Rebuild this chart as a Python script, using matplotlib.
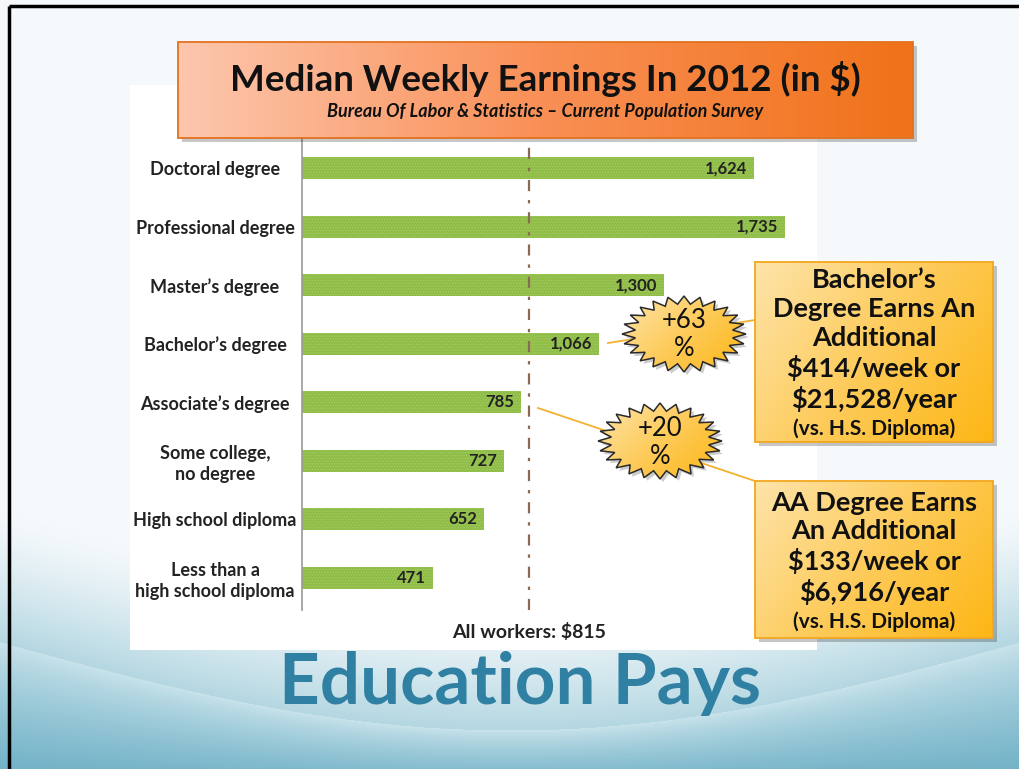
import numpy as np
import matplotlib
matplotlib.use("Agg")
import matplotlib.pyplot as plt
from matplotlib.patches import Rectangle, Polygon
from matplotlib.colors import LinearSegmentedColormap, to_rgb

# Data
categories = ["Doctoral degree", "Professional degree", "Master\u2019s degree",
              "Bachelor\u2019s degree", "Associate\u2019s degree",
              "Some college,\nno degree", "High school diploma",
              "Less than a\nhigh school diploma"]
earnings = [1624, 1735, 1300, 1066, 785, 727, 652, 471]
all_workers = 815

title = "Median Weekly Earnings In 2012 (in \\$)"
subtitle = "Bureau Of Labor & Statistics \u2013 Current Population Survey"
bach_lines = "Bachelor\u2019s\nDegree Earns An\nAdditional\n\\$414/week or\n\\$21,528/year"
aa_lines = "AA Degree Earns\nAn Additional\n\\$133/week or\n\\$6,916/year"
vs_note = "(vs. H.S. Diploma)"
bach_pct = "+63\n%"
aa_pct = "+20\n%"
footer = "Education Pays"

W, H = 1020, 769
fig = plt.figure(figsize=(W / 100, H / 100), dpi=100)

# slide background
bg = fig.add_axes([0, 0, 1, 1], zorder=0)
bg.set_axis_off()
yy, xx = np.mgrid[0:H, 0:W].astype(float)
c_top = np.array(to_rgb("#f5f9fb"))
c_above = np.array(to_rgb("#b4d7e2"))
c_below = np.array(to_rgb("#c9e3eb"))
c_bottom = np.array(to_rgb("#65abc2"))
arc = 642 + 88 * np.sin(np.pi * xx / W)
ta = np.clip((yy - (arc - 130)) / 130, 0, 1)[..., None] ** 1.3
tb = np.clip((yy - arc) / (H - arc + 25), 0, 1)[..., None] ** 0.8
upper = c_top * (1 - ta) + c_above * ta
lower = c_below * (1 - tb) + c_bottom * tb
img = np.where((yy < arc)[..., None], upper, lower)
bg.imshow(img, extent=(0, W, H, 0), aspect="auto", origin="upper", interpolation="bilinear")
bg.set_xlim(0, W)
bg.set_ylim(H, 0)
bg.add_patch(Rectangle((130, 85), 687, 565, fc="white", lw=0))

# bar chart
scale = 0.2785  # px per dollar
ax = fig.add_axes([302 / W, 1 - 610 / H, 515 / W, 473 / H], zorder=1)
ax.patch.set_alpha(0)
plt.rcParams["hatch.linewidth"] = 0.6
pos = np.arange(len(categories))
ax.barh(pos, earnings, height=0.375, color="#8fbd47", edgecolor="#a5cc64",
        linewidth=0, hatch="......")
ax.set_xlim(0, 515 / scale)
ax.set_ylim(7.55, -0.53)
ax.axvline(all_workers, color="#8a6a55", lw=1.6, ls=(0, (5, 4, 1.5, 4)))
for s in ["top", "right", "bottom"]:
    ax.spines[s].set_visible(False)
ax.spines["left"].set_color("#9a9a9a")
ax.spines["left"].set_linewidth(1.2)
ax.set_xticks([])
ax.set_yticks(pos)
ax.set_yticklabels(categories, ha="center", fontsize=13, fontweight="bold",
                   family="Lato", color="#222222", linespacing=1.25)
ax.tick_params(axis="y", length=0, pad=62.6)
for i, v in enumerate(earnings):
    ax.annotate(f"{v:,}", xy=(v, i), xytext=(-5, 0), textcoords="offset points",
                ha="right", va="center", fontsize=12, fontweight="bold",
                family="Lato", color="#222222")
ax.text(all_workers, 7.93, f"All workers: \\${all_workers}", ha="center", va="center",
        fontsize=14, fontweight="bold", family="Lato", color="#222222", clip_on=False)

# overlay with title, callouts
ov = fig.add_axes([0, 0, 1, 1], zorder=2)
ov.set_axis_off()
ov.patch.set_alpha(0)

orange = LinearSegmentedColormap.from_list("o", ["#fdc7ae", "#f98f55", "#f07219"])
gold = LinearSegmentedColormap.from_list("g", ["#fee4aa", "#fdcb5a", "#fdb614"])


def grad_box(x0, y0, x1, y1, cmap, edge, diag):
    ov.add_patch(Rectangle((x0 + 4, y0 + 4), x1 - x0, y1 - y0, fc="black",
                           alpha=0.22, lw=0, zorder=3))
    u = np.linspace(0, 1, 256)
    if diag:
        g = 0.65 * u[None, :] + 0.35 * u[:, None]
    else:
        g = np.tile(u, (64, 1))
    ov.imshow(g, cmap=cmap, extent=(x0, x1, y1, y0), origin="upper",
              aspect="auto", zorder=4)
    ov.add_patch(Rectangle((x0, y0), x1 - x0, y1 - y0, fc="none", ec=edge,
                           lw=1.3, zorder=5))


def burst(cx, cy, rx, ry, n=24, inner=0.79):
    a = np.linspace(0, 2 * np.pi, 2 * n, endpoint=False)
    r = np.where(np.arange(2 * n) % 2 == 0, 1.0, inner)
    pts = np.column_stack([cx + rx * r * np.cos(a), cy + ry * r * np.sin(a)])
    ov.add_patch(Polygon(pts + [3, 3], closed=True, fc="black", alpha=0.2,
                         lw=0, zorder=6))
    u = np.linspace(0, 1, 128)
    g = 0.6 * u[None, :] + 0.4 * u[:, None]
    im = ov.imshow(g, cmap=gold, extent=(cx - rx, cx + rx, cy + ry, cy - ry),
                   origin="upper", aspect="auto", zorder=7)
    edge = Polygon(pts, closed=True, fc="none", ec="#2a2a2a", lw=1.1, zorder=8)
    ov.add_patch(edge)
    im.set_clip_path(edge)


# title box
grad_box(178, 42, 913, 138, orange, "#e3711f", False)
ov.text(545, 79, title, ha="center", va="center", fontsize=26.5, fontweight="bold",
        family="Lato", color="#111111", zorder=9)
ov.text(545, 111, subtitle, ha="center", va="center", fontsize=13,
        fontweight="bold", style="italic", family="Lato", color="#111111", zorder=9)

# connectors
ov.plot([608, 755], [343, 320], color="#f2b230", lw=1.3, zorder=2.5)
ov.plot([538, 755], [408, 481], color="#f2b230", lw=1.3, zorder=2.5)

# callout boxes
grad_box(755, 262, 993, 442, gold, "#f3a71e", True)
grad_box(755, 481, 993, 638, gold, "#f3a71e", True)
ov.text(874, 340, bach_lines, ha="center", va="center", fontsize=19.5,
        fontweight="bold", family="Lato", color="#111111", linespacing=1.23, zorder=9)
ov.text(874, 429, vs_note, ha="center", va="center", fontsize=15,
        fontweight="bold", family="Lato", color="#111111", zorder=9)
ov.text(874, 548, aa_lines, ha="center", va="center", fontsize=19.5,
        fontweight="bold", family="Lato", color="#111111", linespacing=1.23, zorder=9)
ov.text(874, 622, vs_note, ha="center", va="center", fontsize=15,
        fontweight="bold", family="Lato", color="#111111", zorder=9)

# starbursts
burst(684, 334, 62, 38)
burst(660, 441, 62, 38)
ov.text(684, 335, bach_pct, ha="center", va="center", fontsize=18.5, family="Lato",
        color="#111111", linespacing=1.15, zorder=9)
ov.text(660, 442, aa_pct, ha="center", va="center", fontsize=18.5, family="Lato",
        color="#111111", linespacing=1.15, zorder=9)

# footer title
ov.text(520, 683, footer, ha="center", va="center", fontsize=51, fontweight="bold",
        family="Lato", color="#2f80a2", zorder=9)

# slide border
ov.plot([9, W], [6, 6], color="black", lw=2.5, zorder=10, solid_capstyle="butt")
ov.plot([9, 9], [6, H], color="black", lw=2.5, zorder=10, solid_capstyle="butt")

ov.set_xlim(0, W)
ov.set_ylim(H, 0)

fig.savefig("out.png", dpi=100)
